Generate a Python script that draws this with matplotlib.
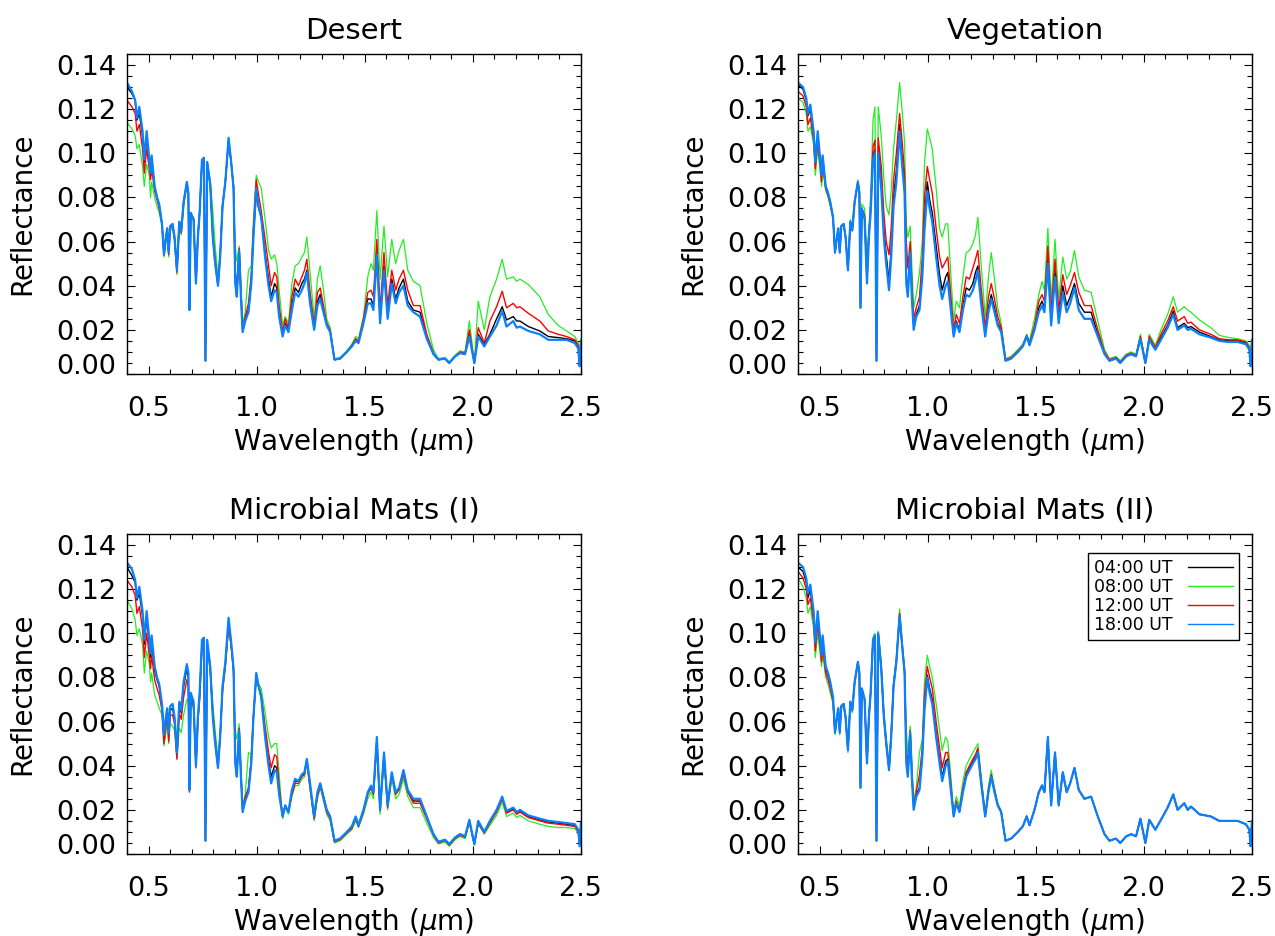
import numpy as np
import matplotlib
matplotlib.use('Agg')
import matplotlib.pyplot as plt
from matplotlib.ticker import MultipleLocator, FormatStrFormatter

plt.rcParams['font.family'] = 'DejaVu Sans'
plt.rcParams['mathtext.fontset'] = 'dejavusans'

# wavelength grid (micron), shared by every panel
wl = [0.400, 0.423, 0.438, 0.446, 0.457, 0.472, 0.480, 0.491, 0.503, 0.509,
      0.514, 0.528, 0.539, 0.549, 0.562, 0.571, 0.580, 0.586, 0.593, 0.600,
      0.611, 0.620, 0.631, 0.642, 0.651, 0.662, 0.677, 0.684, 0.689, 0.695,
      0.708, 0.719, 0.728, 0.736, 0.747, 0.756, 0.763, 0.771, 0.785, 0.797,
      0.808, 0.821, 0.831, 0.842, 0.855, 0.870, 0.882, 0.893, 0.901, 0.908,
      0.919, 0.927, 0.935, 0.947, 0.962, 0.975, 0.985, 0.998, 1.009, 1.021,
      1.039, 1.055, 1.067, 1.083, 1.093, 1.104, 1.120, 1.132, 1.147, 1.163,
      1.178, 1.193, 1.209, 1.221, 1.232, 1.247, 1.266, 1.281, 1.294, 1.309,
      1.324, 1.340, 1.360, 1.386, 1.417, 1.440, 1.458, 1.471, 1.494, 1.514,
      1.529, 1.540, 1.556, 1.571, 1.589, 1.606, 1.625, 1.643, 1.659, 1.679,
      1.699, 1.725, 1.756, 1.787, 1.818, 1.841, 1.871, 1.891, 1.918, 1.941,
      1.964, 1.984, 2.007, 2.025, 2.053, 2.079, 2.110, 2.136, 2.156, 2.187,
      2.203, 2.218, 2.257, 2.310, 2.349, 2.395, 2.434, 2.472, 2.488, 2.494,
      2.500]

# reflectance in percent
desert_04 = [13.0, 12.7, 12.4, 11.5, 11.8, 10.8, 9.6, 10.7, 9.6, 9.0,
             9.8, 8.4, 8.0, 7.6, 6.8, 5.4, 6.2, 6.6, 5.5, 6.7,
             6.8, 6.2, 4.7, 6.9, 6.5, 7.8, 8.7, 8.2, 2.9, 7.3,
             7.0, 4.1, 6.2, 7.3, 9.7, 9.8, 0.6, 9.6, 8.6, 6.2,
             5.0, 4.0, 5.3, 7.6, 8.7, 10.6, 9.6, 8.4, 4.2, 3.6,
             5.6, 3.6, 2.0, 2.5, 2.9, 4.2, 6.3, 8.2, 7.5, 7.1,
             5.5, 4.3, 3.5, 4.1, 3.9, 2.7, 1.8, 2.3, 2.0, 3.1,
             3.9, 3.7, 4.1, 4.3, 4.7, 3.4, 2.1, 3.3, 3.6, 2.9,
             2.3, 1.9, 0.65, 0.7, 1.0, 1.25, 1.55, 1.45, 2.4, 3.4,
             3.4, 3.1, 5.6, 2.5, 4.9, 2.7, 4.3, 3.4, 3.9, 4.3,
             3.3, 2.9, 2.8, 1.7, 0.9, 0.65, 0.7, 0.5, 0.8, 0.95,
             0.9, 1.8, 0.5, 1.8, 1.35, 1.8, 2.5, 3.05, 2.45, 2.6,
             2.4, 2.4, 2.15, 1.95, 1.7, 1.65, 1.6, 1.5, 1.2, 0.5,
             1.5]
desert_08 = [11.4, 11.1, 10.8, 10.2, 10.4, 9.4, 8.5, 9.5, 9.0, 8.0,
             8.7, 8.0, 7.6, 7.3, 6.7, 5.3, 6.0, 6.4, 5.3, 6.5,
             6.6, 6.0, 4.5, 6.7, 6.3, 7.6, 8.5, 8.0, 2.9, 7.2,
             7.1, 4.3, 6.3, 7.4, 9.6, 9.7, 0.6, 9.6, 8.8, 7.4,
             5.8, 4.4, 5.6, 7.7, 8.8, 10.5, 9.6, 8.6, 5.8, 5.1,
             5.8, 4.2, 2.3, 2.8, 4.7, 4.9, 7.0, 9.0, 8.7, 8.4,
             7.0, 5.6, 5.2, 5.4, 5.0, 3.8, 2.2, 2.6, 2.3, 4.1,
             4.9, 5.0, 5.3, 5.5, 6.2, 4.6, 2.5, 4.3, 4.9, 3.8,
             2.5, 2.1, 0.7, 0.75, 1.05, 1.35, 1.7, 1.6, 2.6, 4.4,
             5.0, 4.7, 7.4, 4.3, 6.7, 4.4, 6.1, 5.0, 5.6, 6.1,
             4.7, 4.2, 4.0, 2.3, 1.1, 0.7, 0.75, 0.55, 0.85, 1.05,
             1.0, 2.4, 0.55, 3.3, 2.0, 3.5, 4.3, 5.2, 4.3, 4.4,
             4.2, 4.3, 4.05, 3.5, 2.7, 2.2, 1.95, 1.7, 1.4, 0.7,
             1.6]
desert_12 = [12.4, 12.1, 11.8, 11.0, 11.3, 10.2, 9.1, 10.2, 9.3, 8.8,
             9.3, 8.3, 7.9, 7.5, 6.8, 5.4, 6.1, 6.5, 5.4, 6.6,
             6.7, 6.1, 4.6, 6.8, 6.4, 7.7, 8.6, 8.1, 2.9, 7.2,
             7.0, 4.1, 6.2, 7.3, 9.6, 9.7, 0.6, 9.6, 8.6, 6.4,
             5.2, 4.1, 5.4, 7.6, 8.7, 10.5, 9.6, 8.5, 4.6, 4.0,
             5.7, 3.8, 2.1, 2.6, 3.2, 4.5, 6.6, 8.8, 8.1, 7.4,
             6.1, 4.9, 4.0, 4.6, 4.4, 3.1, 1.9, 2.5, 2.1, 3.5,
             4.3, 4.0, 4.4, 4.7, 5.2, 3.7, 2.2, 3.7, 3.9, 3.1,
             2.3, 2.0, 0.65, 0.7, 1.0, 1.3, 1.6, 1.5, 2.5, 3.7,
             3.8, 3.5, 6.1, 2.9, 5.5, 3.1, 4.7, 3.8, 4.3, 4.7,
             3.8, 3.1, 3.1, 1.8, 0.95, 0.65, 0.7, 0.5, 0.8, 1.0,
             0.95, 2.0, 0.5, 2.1, 1.4, 2.4, 3.05, 3.75, 3.0, 3.2,
             3.0, 3.05, 2.75, 2.4, 1.95, 1.8, 1.7, 1.55, 1.3, 0.6,
             1.5]
desert_18 = [13.2, 12.8, 12.4, 11.6, 12.1, 11.0, 9.7, 11.0, 9.7, 9.1,
             9.9, 8.5, 8.0, 7.7, 6.8, 5.4, 6.2, 6.6, 5.5, 6.7,
             6.8, 6.2, 4.7, 6.9, 6.5, 7.8, 8.7, 8.2, 2.9, 7.3,
             7.0, 4.1, 6.2, 7.3, 9.7, 9.8, 0.6, 9.6, 8.6, 6.2,
             5.0, 4.0, 5.3, 7.6, 8.7, 10.7, 9.6, 8.4, 4.1, 3.5,
             5.6, 3.5, 1.9, 2.4, 2.8, 4.1, 6.2, 8.4, 7.6, 7.1,
             5.3, 4.0, 3.3, 3.8, 3.7, 2.6, 1.7, 2.2, 1.9, 2.9,
             3.7, 3.5, 3.8, 4.1, 4.6, 3.2, 2.0, 3.1, 3.4, 2.8,
             2.2, 1.9, 0.65, 0.7, 1.0, 1.25, 1.5, 1.4, 2.3, 3.2,
             3.2, 2.9, 5.4, 2.3, 4.7, 2.5, 4.1, 3.2, 3.7, 4.0,
             3.1, 2.8, 2.6, 1.6, 0.9, 0.65, 0.7, 0.5, 0.8, 0.95,
             0.9, 1.7, 0.5, 1.7, 1.25, 1.7, 2.2, 2.85, 2.15, 2.4,
             2.1, 2.15, 1.95, 1.8, 1.55, 1.55, 1.55, 1.4, 1.15, 0.35,
             1.5]

veg_04 = [13.1, 12.9, 12.4, 11.7, 12.0, 10.9, 9.6, 10.8, 9.6, 9.0,
          9.8, 8.5, 8.2, 7.8, 7.1, 5.5, 6.2, 6.6, 5.5, 6.7,
          6.8, 6.2, 4.7, 6.9, 6.5, 7.8, 8.7, 8.2, 3.0, 7.5,
          7.1, 4.2, 6.3, 7.4, 9.9, 10.2, 0.6, 10.3, 8.8, 6.6,
          5.4, 4.2, 5.7, 8.0, 9.2, 11.3, 9.8, 8.5, 4.4, 3.8,
          5.7, 3.6, 2.2, 2.7, 3.1, 4.7, 7.0, 8.7, 7.9, 7.3,
          5.8, 4.5, 3.8, 4.4, 4.6, 3.4, 1.8, 2.4, 2.0, 3.1,
          3.9, 3.8, 4.1, 4.6, 4.9, 3.4, 1.8, 3.0, 3.6, 3.0,
          2.3, 2.0, 0.6, 0.7, 1.0, 1.3, 1.7, 1.35, 2.1, 3.0,
          3.3, 3.0, 5.3, 2.4, 4.7, 2.5, 4.0, 3.1, 3.5, 4.1,
          3.2, 2.8, 2.8, 1.8, 0.95, 0.6, 0.7, 0.5, 0.8, 0.9,
          0.8, 1.65, 0.5, 1.6, 1.15, 1.65, 2.2, 2.85, 2.1, 2.3,
          2.1, 2.15, 1.9, 1.7, 1.55, 1.5, 1.5, 1.4, 1.15, 0.5,
          1.5]
veg_08 = [12.5, 12.3, 11.8, 11.0, 11.2, 10.4, 9.0, 10.2, 9.1, 8.5,
          9.3, 8.3, 8.0, 7.6, 7.0, 5.5, 6.2, 6.5, 5.5, 6.7,
          6.8, 6.2, 4.8, 7.0, 6.6, 7.9, 8.8, 8.3, 3.1, 7.7,
          7.5, 5.3, 6.6, 8.1, 11.5, 12.1, 0.7, 12.1, 10.8, 8.9,
          7.6, 7.2, 8.3, 10.2, 11.5, 13.2, 11.9, 10.5, 6.8, 6.2,
          6.7, 4.8, 3.0, 3.6, 4.6, 6.0, 9.5, 11.1, 10.7, 10.2,
          8.4, 6.6, 6.2, 6.8, 6.8, 5.0, 2.4, 3.3, 3.0, 4.4,
          5.5, 5.6, 5.9, 6.3, 7.1, 5.0, 2.6, 4.4, 5.5, 4.3,
          3.0, 2.3, 0.7, 0.8, 1.1, 1.35, 1.8, 1.5, 2.5, 3.6,
          4.2, 3.8, 6.6, 3.3, 6.1, 3.4, 5.3, 4.3, 4.6, 5.6,
          4.4, 3.8, 3.7, 2.4, 1.1, 0.7, 0.8, 0.6, 0.9, 1.0,
          0.9, 1.8, 0.55, 1.8, 1.3, 2.0, 2.7, 3.5, 2.8, 3.05,
          2.9, 2.8, 2.45, 2.1, 1.75, 1.65, 1.6, 1.5, 1.3, 0.8,
          1.6]
veg_12 = [12.8, 12.6, 12.1, 11.3, 11.6, 10.6, 9.3, 10.5, 9.4, 8.7,
          9.6, 8.4, 8.1, 7.7, 7.1, 5.5, 6.2, 6.5, 5.5, 6.7,
          6.8, 6.2, 4.7, 6.9, 6.5, 7.8, 8.7, 8.2, 3.0, 7.5,
          7.2, 4.5, 6.4, 7.6, 10.3, 10.6, 0.6, 10.7, 9.4, 7.3,
          6.0, 5.4, 6.6, 8.8, 10.0, 11.8, 10.5, 9.1, 6.0, 4.8,
          6.0, 4.0, 2.5, 3.0, 3.5, 5.3, 8.0, 9.4, 8.8, 8.2,
          6.6, 5.3, 4.8, 5.1, 5.3, 3.9, 2.0, 2.7, 2.3, 3.5,
          4.4, 4.3, 4.8, 5.2, 5.6, 3.9, 2.1, 3.5, 4.1, 3.4,
          2.6, 2.1, 0.65, 0.75, 1.05, 1.3, 1.75, 1.4, 2.2, 3.3,
          3.6, 3.3, 5.8, 2.8, 5.2, 2.9, 4.5, 3.6, 4.0, 4.6,
          3.7, 3.1, 3.1, 2.0, 1.0, 0.65, 0.75, 0.55, 0.85, 0.95,
          0.85, 1.7, 0.5, 1.7, 1.2, 1.8, 2.4, 3.05, 2.4, 2.6,
          2.3, 2.35, 2.0, 1.8, 1.6, 1.55, 1.55, 1.45, 1.2, 0.6,
          1.55]
veg_18 = [13.2, 13.0, 12.5, 11.8, 12.2, 11.0, 9.6, 11.0, 9.7, 9.0,
          9.9, 8.5, 8.2, 7.8, 7.1, 5.5, 6.2, 6.6, 5.5, 6.7,
          6.8, 6.2, 4.7, 6.9, 6.5, 7.8, 8.7, 8.2, 3.0, 7.5,
          7.0, 4.1, 6.2, 7.3, 9.7, 10.0, 0.6, 10.0, 8.4, 6.2,
          5.0, 3.8, 5.3, 7.6, 8.7, 11.0, 9.4, 8.2, 4.1, 3.5,
          5.5, 3.4, 2.0, 2.6, 2.9, 4.4, 6.5, 8.3, 7.5, 6.9,
          5.3, 4.0, 3.4, 4.0, 4.2, 3.2, 1.7, 2.3, 1.9, 2.9,
          3.6, 3.5, 3.8, 4.2, 4.7, 3.2, 1.7, 2.8, 3.4, 2.8,
          2.2, 1.9, 0.6, 0.7, 1.0, 1.25, 1.7, 1.3, 2.0, 2.8,
          3.1, 2.8, 5.0, 2.2, 4.4, 2.3, 3.7, 2.8, 3.2, 3.9,
          2.9, 2.5, 2.5, 1.7, 0.9, 0.6, 0.7, 0.5, 0.8, 0.9,
          0.8, 1.6, 0.5, 1.55, 1.1, 1.55, 2.1, 2.7, 2.0, 2.2,
          2.0, 2.05, 1.8, 1.65, 1.5, 1.45, 1.45, 1.35, 1.1, 0.35,
          1.5]

mats1_04 = [13.0, 12.6, 12.3, 11.5, 11.8, 10.8, 9.5, 10.7, 9.5, 8.9,
            9.6, 8.3, 7.9, 7.6, 6.7, 5.2, 6.0, 6.5, 5.3, 6.5,
            6.6, 6.1, 4.5, 6.7, 6.4, 7.6, 8.4, 8.0, 2.9, 7.2,
            6.8, 4.0, 6.1, 7.2, 9.6, 9.7, 0.6, 9.6, 8.4, 6.3,
            5.1, 3.9, 5.3, 7.5, 8.6, 10.5, 9.5, 8.3, 4.2, 3.6,
            5.6, 3.6, 2.0, 2.5, 2.9, 4.2, 6.2, 8.1, 7.6, 7.1,
            5.5, 4.2, 3.5, 4.0, 3.9, 2.8, 1.7, 2.2, 1.9, 2.8,
            3.3, 3.3, 3.6, 3.6, 4.3, 3.1, 1.6, 2.7, 3.2, 2.6,
            2.0, 1.7, 0.6, 0.7, 1.0, 1.2, 1.65, 1.3, 1.95, 2.75,
            3.0, 2.75, 5.2, 2.0, 4.5, 2.2, 3.65, 2.75, 2.95, 3.7,
            2.85, 2.4, 2.4, 1.65, 0.9, 0.55, 0.65, 0.45, 0.75, 0.9,
            0.8, 1.5, 0.45, 1.45, 1.0, 1.45, 1.95, 2.55, 1.9, 2.05,
            1.85, 1.95, 1.7, 1.55, 1.45, 1.4, 1.35, 1.3, 1.05, 0.4,
            1.3]
mats1_08 = [11.5, 11.1, 10.6, 9.9, 10.2, 9.5, 8.2, 9.2, 8.6, 7.8,
            8.2, 7.2, 6.9, 6.6, 6.3, 4.9, 5.5, 6.0, 5.0, 5.9,
            5.8, 5.6, 4.3, 5.7, 5.5, 6.3, 7.0, 7.0, 2.9, 6.8,
            6.6, 4.0, 6.0, 7.0, 9.4, 9.5, 0.6, 9.4, 8.6, 6.8,
            5.6, 4.3, 5.5, 7.4, 8.4, 10.3, 9.4, 8.3, 5.6, 5.2,
            5.9, 4.0, 2.2, 2.7, 4.6, 4.5, 6.3, 7.9, 7.7, 7.5,
            6.4, 5.3, 4.8, 5.0, 5.0, 3.6, 1.6, 2.1, 1.8, 2.6,
            3.1, 3.1, 3.4, 3.5, 4.1, 2.9, 1.5, 2.5, 3.0, 2.4,
            1.8, 1.5, 0.5, 0.6, 0.9, 1.1, 1.5, 1.2, 1.8, 2.5,
            2.8, 2.5, 5.0, 1.8, 4.3, 2.0, 3.4, 2.5, 2.7, 3.4,
            2.6, 2.1, 2.1, 1.4, 0.75, 0.45, 0.55, 0.35, 0.65, 0.8,
            0.7, 1.4, 0.4, 1.35, 0.9, 1.3, 1.75, 2.35, 1.7, 1.85,
            1.65, 1.75, 1.5, 1.35, 1.25, 1.2, 1.2, 1.15, 0.95, 0.5,
            1.2]
mats1_12 = [12.4, 12.1, 11.7, 10.9, 11.2, 10.2, 8.9, 10.0, 9.0, 8.4,
            9.0, 7.9, 7.5, 7.2, 6.5, 5.0, 5.8, 6.3, 5.1, 6.3,
            6.3, 5.9, 4.3, 6.4, 6.1, 7.1, 7.9, 7.6, 2.8, 6.9,
            6.7, 3.9, 6.0, 7.0, 9.4, 9.5, 0.6, 9.5, 8.3, 6.4,
            5.2, 4.0, 5.3, 7.4, 8.5, 10.3, 9.4, 8.3, 4.4, 3.9,
            5.7, 3.7, 2.1, 2.6, 3.0, 4.3, 6.2, 8.0, 7.6, 7.2,
            5.8, 4.6, 3.9, 4.5, 4.4, 3.1, 1.7, 2.2, 1.9, 2.7,
            3.2, 3.2, 3.5, 3.6, 4.2, 3.0, 1.6, 2.6, 3.1, 2.5,
            1.9, 1.6, 0.55, 0.65, 0.95, 1.15, 1.6, 1.25, 1.9, 2.7,
            3.0, 2.7, 5.1, 1.95, 4.4, 2.1, 3.6, 2.7, 2.9, 3.6,
            2.8, 2.3, 2.3, 1.6, 0.85, 0.5, 0.6, 0.4, 0.7, 0.85,
            0.75, 1.45, 0.45, 1.4, 0.95, 1.4, 1.9, 2.5, 1.85, 2.0,
            1.8, 1.9, 1.65, 1.5, 1.4, 1.35, 1.3, 1.25, 1.0, 0.45,
            1.25]
mats1_18 = [13.2, 12.9, 12.4, 11.6, 12.1, 11.0, 9.7, 11.0, 9.7, 9.1,
            9.9, 8.5, 8.0, 7.7, 6.8, 5.4, 6.2, 6.6, 5.5, 6.7,
            6.8, 6.2, 4.6, 6.9, 6.5, 7.8, 8.6, 8.2, 2.9, 7.3,
            6.9, 4.0, 6.2, 7.3, 9.7, 9.8, 0.6, 9.7, 8.5, 6.2,
            5.0, 3.9, 5.3, 7.6, 8.7, 10.7, 9.6, 8.4, 4.1, 3.5,
            5.6, 3.5, 1.9, 2.4, 2.8, 4.1, 6.2, 8.2, 7.6, 7.1,
            5.3, 4.0, 3.2, 3.8, 3.7, 2.7, 1.7, 2.2, 1.9, 2.9,
            3.4, 3.3, 3.6, 3.7, 4.3, 3.2, 1.7, 2.8, 3.2, 2.6,
            2.0, 1.7, 0.6, 0.7, 1.0, 1.25, 1.7, 1.3, 2.0, 2.8,
            3.1, 2.8, 5.3, 2.0, 4.6, 2.2, 3.7, 2.8, 3.0, 3.8,
            2.9, 2.5, 2.5, 1.7, 0.9, 0.55, 0.65, 0.45, 0.75, 0.9,
            0.8, 1.55, 0.45, 1.5, 1.0, 1.5, 2.0, 2.6, 1.95, 2.1,
            1.9, 2.0, 1.75, 1.6, 1.5, 1.45, 1.4, 1.35, 1.1, 0.35,
            1.4]

mats2_04 = [13.0, 12.8, 12.3, 11.6, 12.0, 10.8, 9.5, 10.8, 9.6, 8.9,
            9.7, 8.4, 8.1, 7.7, 7.0, 5.5, 6.2, 6.6, 5.5, 6.7,
            6.8, 6.2, 4.7, 6.9, 6.5, 7.8, 8.7, 8.2, 3.0, 7.5,
            7.0, 4.1, 6.2, 7.3, 9.7, 9.9, 0.6, 10.0, 8.4, 6.2,
            5.0, 3.8, 5.3, 7.6, 8.7, 10.8, 9.4, 8.2, 4.3, 3.6,
            5.5, 3.5, 2.1, 2.7, 3.0, 4.5, 6.7, 8.1, 7.5, 7.0,
            5.5, 4.3, 3.5, 4.2, 4.3, 3.3, 1.75, 2.35, 1.95, 2.9,
            3.6, 3.9, 4.2, 4.4, 4.7, 3.3, 1.7, 2.85, 3.55, 2.85,
            2.2, 1.9, 0.6, 0.7, 1.0, 1.25, 1.7, 1.3, 2.0, 2.8,
            3.1, 2.8, 5.3, 2.2, 4.6, 2.2, 3.7, 2.8, 3.2, 3.9,
            2.9, 2.5, 2.6, 1.7, 0.9, 0.6, 0.7, 0.5, 0.8, 0.9,
            0.8, 1.6, 0.5, 1.55, 1.1, 1.55, 2.1, 2.7, 2.0, 2.3,
            2.0, 2.15, 1.8, 1.7, 1.5, 1.5, 1.5, 1.35, 1.1, 0.4,
            1.5]
mats2_08 = [12.5, 12.1, 11.6, 10.9, 11.2, 10.2, 8.9, 10.0, 9.0, 8.5,
            9.1, 8.0, 7.7, 7.3, 6.8, 5.4, 6.1, 6.5, 5.4, 6.6,
            6.7, 6.1, 4.6, 6.8, 6.4, 7.7, 8.6, 8.1, 3.0, 7.5,
            7.1, 4.2, 6.3, 7.4, 9.8, 10.0, 0.6, 10.1, 8.6, 6.5,
            5.3, 4.1, 5.6, 7.8, 8.9, 11.1, 9.6, 8.4, 5.6, 4.6,
            5.8, 4.1, 2.4, 3.0, 4.6, 5.2, 7.8, 9.0, 8.5, 8.0,
            6.8, 5.6, 4.7, 5.3, 5.1, 3.9, 1.9, 2.6, 2.2, 3.3,
            4.0, 4.3, 4.6, 4.8, 5.0, 3.6, 1.8, 3.1, 3.8, 3.0,
            2.3, 1.95, 0.6, 0.7, 1.0, 1.25, 1.75, 1.3, 2.05, 2.85,
            3.15, 2.85, 5.3, 2.25, 4.6, 2.25, 3.7, 2.85, 3.2, 3.9,
            2.9, 2.5, 2.6, 1.7, 0.9, 0.6, 0.7, 0.5, 0.8, 0.9,
            0.8, 1.6, 0.5, 1.55, 1.1, 1.55, 2.1, 2.7, 2.0, 2.3,
            2.0, 2.15, 1.8, 1.7, 1.5, 1.5, 1.5, 1.35, 1.1, 0.5,
            1.5]
mats2_12 = [12.8, 12.5, 12.0, 11.3, 11.6, 10.5, 9.2, 10.4, 9.3, 8.7,
            9.4, 8.2, 7.9, 7.5, 6.9, 5.5, 6.2, 6.6, 5.5, 6.7,
            6.8, 6.2, 4.7, 6.9, 6.5, 7.8, 8.7, 8.2, 3.0, 7.5,
            7.0, 4.1, 6.2, 7.3, 9.7, 9.9, 0.6, 10.0, 8.5, 6.3,
            5.1, 3.9, 5.4, 7.7, 8.8, 10.9, 9.5, 8.3, 4.8, 4.0,
            5.6, 3.7, 2.2, 2.8, 3.6, 4.8, 7.2, 8.5, 8.0, 7.5,
            6.0, 4.8, 3.9, 4.6, 4.6, 3.5, 1.8, 2.4, 2.0, 3.0,
            3.7, 4.0, 4.3, 4.5, 4.8, 3.4, 1.75, 2.9, 3.6, 2.9,
            2.25, 1.9, 0.6, 0.7, 1.0, 1.25, 1.7, 1.3, 2.0, 2.8,
            3.1, 2.8, 5.3, 2.2, 4.6, 2.2, 3.7, 2.8, 3.2, 3.9,
            2.9, 2.5, 2.6, 1.7, 0.9, 0.6, 0.7, 0.5, 0.8, 0.9,
            0.8, 1.6, 0.5, 1.55, 1.1, 1.55, 2.1, 2.7, 2.0, 2.3,
            2.0, 2.15, 1.8, 1.7, 1.5, 1.5, 1.5, 1.35, 1.1, 0.45,
            1.5]
mats2_18 = [13.2, 13.0, 12.5, 11.8, 12.2, 11.0, 9.6, 11.0, 9.7, 9.0,
            9.9, 8.5, 8.2, 7.8, 7.1, 5.5, 6.2, 6.6, 5.5, 6.7,
            6.8, 6.2, 4.7, 6.9, 6.5, 7.8, 8.7, 8.2, 3.0, 7.5,
            7.0, 4.1, 6.2, 7.3, 9.7, 9.9, 0.6, 10.0, 8.4, 6.2,
            5.0, 3.8, 5.3, 7.6, 8.7, 10.8, 9.4, 8.2, 4.1, 3.5,
            5.5, 3.4, 2.0, 2.6, 2.9, 4.4, 6.5, 8.0, 7.3, 6.8,
            5.3, 4.1, 3.3, 4.0, 4.2, 3.2, 1.7, 2.3, 1.9, 2.8,
            3.5, 3.8, 4.1, 4.3, 4.6, 3.2, 1.7, 2.8, 3.5, 2.8,
            2.2, 1.9, 0.6, 0.7, 1.0, 1.25, 1.7, 1.3, 2.0, 2.8,
            3.1, 2.8, 5.3, 2.2, 4.6, 2.2, 3.7, 2.8, 3.2, 3.9,
            2.9, 2.5, 2.6, 1.7, 0.9, 0.6, 0.7, 0.5, 0.8, 0.9,
            0.8, 1.6, 0.5, 1.55, 1.1, 1.55, 2.1, 2.7, 2.0, 2.3,
            2.0, 2.15, 1.8, 1.7, 1.5, 1.5, 1.5, 1.35, 1.1, 0.35,
            1.5]

times = ['04:00 UT', '08:00 UT', '12:00 UT', '18:00 UT']
colors = ['black', '#22ee22', '#ff0000', '#0a80ff']
widths = [1.0, 0.9, 1.0, 1.6]

panels = [
    ('Desert', [desert_04, desert_08, desert_12, desert_18]),
    ('Vegetation', [veg_04, veg_08, veg_12, veg_18]),
    ('Microbial Mats (I)', [mats1_04, mats1_08, mats1_12, mats1_18]),
    ('Microbial Mats (II)', [mats2_04, mats2_08, mats2_12, mats2_18]),
]

# axes boxes in figure fractions
boxes = [[0.0996, 0.6004, 0.356, 0.342],
         [0.6259, 0.6004, 0.356, 0.342],
         [0.0996, 0.0876, 0.356, 0.342],
         [0.6259, 0.0876, 0.356, 0.342]]

fig = plt.figure(figsize=(12.75, 9.36), dpi=100)
for (title, series), box in zip(panels, boxes):
    ax = fig.add_axes(box)
    for vals, c, lw, lab in zip(series, colors, widths, times):
        ax.plot(wl, np.array(vals) / 100.0, color=c, lw=lw, label=lab)
    ax.set_xlim(0.4, 2.5)
    ax.set_ylim(0.0, 0.145)
    ax.set_xticks([0.5, 1.0, 1.5, 2.0, 2.5])
    ax.xaxis.set_minor_locator(MultipleLocator(0.1))
    ax.set_yticks(np.arange(0, 0.141, 0.02))
    ax.yaxis.set_minor_locator(MultipleLocator(0.005))
    ax.xaxis.set_major_formatter(FormatStrFormatter('%.1f'))
    ax.yaxis.set_major_formatter(FormatStrFormatter('%.2f'))
    ax.tick_params(which='both', direction='in', top=True, right=True, width=0.8)
    ax.tick_params(which='major', length=6)
    ax.tick_params(which='minor', length=3.5)
    ax.tick_params(axis='x', labelsize=19.5, pad=16)
    ax.tick_params(axis='y', labelsize=19.5, pad=8)
    for s in ax.spines.values():
        s.set_linewidth(1.0)
    ax.set_title(title, fontsize=21, pad=11)
    ax.set_xlabel(r'Wavelength ($\mu$m)', fontsize=20, va='center')
    ax.xaxis.set_label_coords(0.5, -0.212)
    ax.set_ylabel('Reflectance', fontsize=20, va='center')
    ax.yaxis.set_label_coords(-0.231, 0.5)
    ax.get_yticklabels()[0].set_va('baseline')
    if title == 'Microbial Mats (II)':
        leg = ax.legend(loc='upper right', bbox_to_anchor=(0.972, 0.94),
                        fontsize=12.5, markerfirst=False, fancybox=False,
                        edgecolor='black', framealpha=1, handlelength=2.6,
                        handletextpad=0.9, borderpad=0.35, labelspacing=0.05,
                        borderaxespad=0)
        leg.get_frame().set_linewidth(1.0)
        for line in leg.get_lines():
            line.set_linewidth(1.0)

fig.savefig('out.png', dpi=100)
